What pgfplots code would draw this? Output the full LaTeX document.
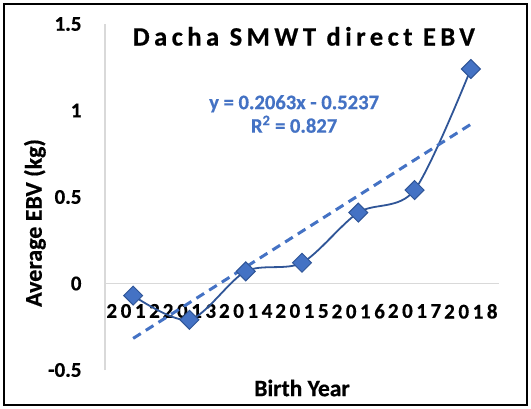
\documentclass[border=0pt]{standalone}
\usepackage{fontspec}
\setmainfont{Carlito}[BoldFeatures={FakeBold=0.6}]
\usepackage{pgfplots}
\pgfplotsset{compat=1.18}
\definecolor{lineblue}{HTML}{2F5597}
\definecolor{fillblue}{HTML}{4472C4}
\definecolor{axgray}{HTML}{D9D9D9}
\begin{document}
\begin{tikzpicture}
\useasboundingbox (-105bp,-39bp) rectangle (426bp,370bp);
\draw[line width=2bp, black] (-101bp,-35bp) rectangle (422bp,366bp);
\begin{axis}[
  at={(0,0)}, anchor=south west,
  scale only axis, width=394bp, height=346bp,
  xmin=0.5, xmax=7.5, ymin=-0.5, ymax=1.5,
  axis x line=middle, axis y line=left,
  axis line style={axgray, line width=1.2bp, -},
  major tick length=0pt,
  xtick={1,2,3,4,5,6,7},
  xticklabels={2012,2013,2014,2015,2016,2017,2018},
  ytick={-0.5,0,0.5,1,1.5},
  yticklabels={-0.5,0,0.5,1,1.5},
  xticklabel style={font=\fontsize{21bp}{24bp}\selectfont\bfseries\addfontfeature{LetterSpace=17}, anchor=north, yshift=-17bp},
  yticklabel style={font=\fontsize{21bp}{24bp}\selectfont\bfseries, anchor=east, xshift=-20bp},
  xlabel={Birth Year},
  ylabel={Average EBV (kg)},
  x label style={font=\fontsize{23.5bp}{26bp}\selectfont\bfseries, at={(axis description cs:0.5,-0.052)}, anchor=center},
  y label style={font=\fontsize{24bp}{26bp}\selectfont\bfseries, at={(axis description cs:-0.178,0.425)}, anchor=center},
  title={Dacha SMWT direct EBV},
  title style={font=\fontsize{26.5bp}{28bp}\selectfont\bfseries\addfontfeature{LetterSpace=17}, at={(axis description cs:0.505,0.947)}, anchor=center},
  clip=false,
]
\addplot[lineblue, line width=1.8bp, smooth, mark=square*, mark size=6.7bp,
  mark options={rotate=45, fill=fillblue, draw=lineblue, line width=1bp, solid}]
  coordinates {(1,-0.07) (2,-0.21) (3,0.07) (4,0.12) (5,0.41) (6,0.54) (7,1.24)};
\addplot[fillblue, line width=3bp, dash pattern=on 9bp off 6bp]
  coordinates {(1,-0.3174) (7,0.9204)};
\node[fillblue, font=\fontsize{20.6bp}{23.5bp}\selectfont\bfseries, align=center] at (axis cs:3.86,0.98)
  {y = 0.2063x - 0.5237\\R\textsuperscript{2} = 0.827};
\end{axis}
\end{tikzpicture}
\end{document}
